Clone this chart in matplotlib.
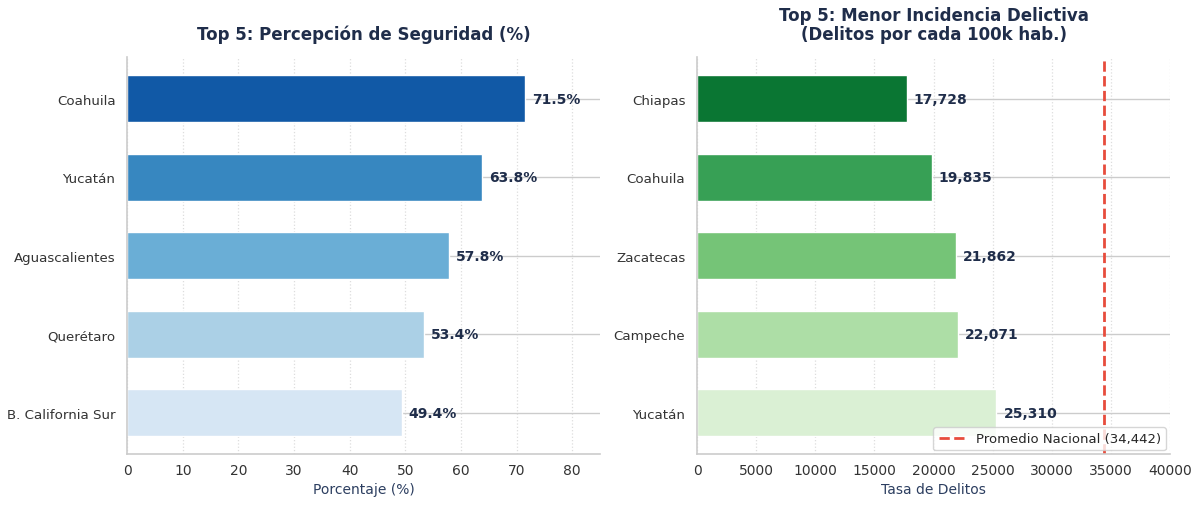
import matplotlib
matplotlib.use("Agg")
import matplotlib.pyplot as plt
import seaborn as sns

# datos
estados_seg = ["Coahuila", "Yucatán", "Aguascalientes", "Querétaro", "B. California Sur"]
percepcion = [71.5, 63.8, 57.8, 53.4, 49.4]

estados_del = ["Chiapas", "Coahuila", "Zacatecas", "Campeche", "Yucatán"]
tasa_delitos = [17728, 19835, 21862, 22071, 25310]
promedio_nacional = 34442

azules = ["#1159a6", "#3787c0", "#6aaed6", "#abd0e6", "#d6e6f4"]
verdes = ["#0a7633", "#37a055", "#75c477", "#addea6", "#daf0d4"]
navy = "#1f2d4a"

sns.set_style("whitegrid")
plt.rcParams['font.family'] = ['DejaVu Sans']

fig, (ax1, ax2) = plt.subplots(1, 2, figsize=(12, 5.06), dpi=100)


def estilo(ax):
    ax.invert_yaxis()
    ax.grid(axis="x", linestyle=":", color="#dddddd", linewidth=0.9)
    ax.grid(axis="y", linestyle="-", color="#cccccc", linewidth=1.0)
    ax.set_axisbelow(True)
    for s in ["top", "right"]:
        ax.spines[s].set_visible(False)
    for s in ["left", "bottom"]:
        ax.spines[s].set_color("#cccccc")
        ax.spines[s].set_linewidth(1.2)
    ax.tick_params(axis="x", labelsize=10, colors="#333333", length=0, pad=6)
    ax.tick_params(axis="y", labelsize=9.6, colors="#333333", length=0, pad=8.5)


# panel izquierdo
y1 = range(len(estados_seg))
bars = ax1.barh(y1, percepcion, height=0.6, color=azules, edgecolor="white", linewidth=1)
ax1.set_yticks(list(y1))
ax1.set_yticklabels(estados_seg)
estilo(ax1)
ax1.set_xlim(0, 85)
for b, v in zip(bars, percepcion):
    ax1.text(v + 1.2, b.get_y() + b.get_height() / 2, f"{v:.1f}%", va="center", ha="left",
             fontsize=10, fontweight="bold", color=navy)
ax1.set_title("Top 5: Percepción de Seguridad (%)", fontsize=12, fontweight="bold", color=navy, pad=13)
ax1.set_xlabel("Porcentaje (%)", fontsize=10, color="#2c3e60")

# panel derecho
y2 = range(len(estados_del))
bars = ax2.barh(y2, tasa_delitos, height=0.6, color=verdes, edgecolor="white", linewidth=1)
ax2.set_yticks(list(y2))
ax2.set_yticklabels(estados_del)
estilo(ax2)
ax2.set_xlim(0, 40000)
for b, v in zip(bars, tasa_delitos):
    ax2.text(v + 600, b.get_y() + b.get_height() / 2, f"{v:,}", va="center", ha="left",
             fontsize=10, fontweight="bold", color=navy)
ax2.axvline(promedio_nacional, color="#e74c3c", linestyle="--", linewidth=2,
            label=f"Promedio Nacional ({promedio_nacional:,})")
ax2.legend(loc="lower right", fontsize=9.5, frameon=True, borderaxespad=0.3)
ax2.set_title("Top 5: Menor Incidencia Delictiva\n(Delitos por cada 100k hab.)", fontsize=12,
              fontweight="bold", color=navy, pad=13, linespacing=1.1)
ax2.set_xlabel("Tasa de Delitos", fontsize=10, color="#2c3e60")

plt.subplots_adjust(left=0.106, right=0.975, top=0.885, bottom=0.1, wspace=0.205)
fig.savefig("out.png", dpi=100)
